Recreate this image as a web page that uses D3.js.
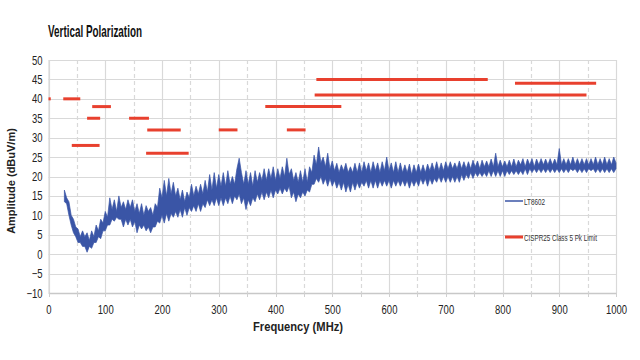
<!DOCTYPE html>
<html><head><meta charset="utf-8">
<script src="https://cdn.jsdelivr.net/npm/d3@7"></script>
<style>
body{margin:0;background:#fff;}
text{font-family:"Liberation Sans",Arial,sans-serif;}
</style></head>
<body><svg id="c" width="640" height="360"></svg>
<script>
// ---- data ----
const chartTitle = "Vertical Polarization";
const xTicks = [0,100,200,300,400,500,600,700,800,900,1000];
const yTicks = [-10,-5,0,5,10,15,20,25,30,35,40,45,50];
const seriesNames = ["LT8602","CISPR25 Class 5 Pk Limit"];
// measured spectrum envelope: sampled every 4 MHz from 28 MHz
const freqStart = 28, freqStep = 4;
const ampUpper = [
 16.5,14.5,13.5,10,9,7,6.5,4.5,6,4.5,
 5.5,3.5,6,4.5,7.5,6,9,8,11,9.5,
 14.5,11.5,14,11,15,12,13.5,11.5,14,12,
 14,11,13,10.5,13,10,12.5,11,12,10,
 13,12,17,14.5,19,15,19.5,15.5,18.5,15,
 17,14,16.5,13.5,16,14.5,18,15,17.5,15.5,
 18,15.5,19,16,20.5,16.5,21,17,20.5,17.5,
 21,17.5,21.5,18,20,18,22,24.7,21,18,
 21.5,18,21,17.5,21.5,18.5,21,19,22,19,
 22,19.5,22.5,19,22,19.5,22.5,20,24.7,20.5,
 22,19,21,18.5,21.5,18.5,22,18.5,22.5,21,
 25.5,23,27.6,23.5,25,22.5,26,22,24,21.5,
 23.4,21,23,21.5,23.4,21,22.5,21,23.4,21,
 23.5,21,23.8,21.5,23.5,21,23.8,21.5,23.5,21,
 23.8,21.5,25,21.5,23.5,21,23.8,21,23.5,21,
 23,21,23.2,20.5,23,21,23.2,21,23,21,
 23.2,21.5,23.5,21.5,23.8,21.5,23.5,21.5,23.8,22,
 23.8,22,23.5,22,24,22,23.8,22,23.8,22,
 24.2,22.5,24,22,24.2,22.5,24,22.5,24.5,22.5,
 26,22.5,24.2,22.5,24,22.5,24.2,22.5,24.5,22.5,
 24.2,23,24.6,22.5,24.5,23,24.6,22.5,24.5,23,
 24.6,23,24.5,23,24.6,23,24.5,23,27.2,23,
 24.6,23,24.6,23,25,23,24.6,23,24.6,23,
 24.6,23,24.6,23,25,23,24.6,23,25,23,
 24.6,23,25,23.5
];
const ampLower = [
 13.5,13,10,7.5,5.5,4.5,3,3,2,2,
 0.5,2,1.5,3,3,4.5,4,6,6,7.5,
 7.5,9,8.5,9.5,9,9,7,9,7.5,9,
 7,8.5,5.5,7.5,6.5,7.5,6,7,5.5,7,
 7,8.5,8,10,8,10.5,8.5,10.5,9.5,11,
 9.5,11.5,9.5,12,10,12,11,12.5,11,13,
 11,13,12,14,12.5,14,12.5,14.5,12.5,14.5,
 12.5,14.5,13,15,13,15,14,15.5,13,14.5,
 11.5,14,12.5,14.5,13.5,15.5,14,16,14,16,
 14.5,16.5,14.5,16.5,15.5,17,15.5,17,16,17.5,
 14.5,16,13.5,15.5,14.5,16,15,16.5,16,18,
 18,19.5,18.5,20,18,19.5,17.5,19.5,17.5,19,
 17,18.5,16.5,18.5,16,18,16,18.5,16.5,18.5,
 17,18.5,17.5,19,17,19,17,19,17,19,
 17.5,19,17.5,19,17,19,17.5,19,17.5,19,
 17.5,19,17,19,17.5,19,17.5,19.5,18,19.5,
 17.5,19.5,18,19.5,18.5,20,18.5,20,18.5,20,
 18.5,20,18.5,20,18.5,20.5,19,20.5,19.5,21,
 19.5,21,20,21,20,21,20,21.5,20,21.5,
 20,21.5,20,21.5,20,21.5,20.5,21.5,20.5,21.5,
 20.5,21.5,20.5,22,20.5,22,21,22,21,22,
 21,22,21,22,21,22,21,22,21,22,
 21,22,21,22,21.5,22,21,22,21,22,
 21,22,21.5,22,21,22,21,22,21,22,
 21,22,21,22
];
// limit segments
const limitStart = [0, 26, 77, 68, 142, 174, 300, 420, 41, 172, 472, 822, 469, 382];
const limitEnd   = [4, 56,110, 91, 177, 233, 333, 453, 90, 247, 774, 965, 948, 516];
const limitLevel = [40,40, 38, 35,  35,  32,  32,  32, 28,  26,  45,  44,  41,  38];

// ---- chart ----
const svg = d3.select("#c");
const x = d3.scaleLinear().domain([0,1000]).range([48.5,616]);
const y = d3.scaleLinear().domain([-10,50]).range([293,60]);
const gridCol = "#d9d9d9";
const blue = "#3a55a6", red = "#e8402e";

function condense(sel, sx){
  sel.each(function(){
    const t = d3.select(this);
    const xv = parseFloat(t.attr("x")||0);
    t.attr("x", xv/sx).attr("transform", `scale(${sx},1)`);
  });
}

// horizontal gridlines
svg.append("g").selectAll("line").data(yTicks).join("line")
  .attr("x1",x(0)).attr("x2",x(1000))
  .attr("y1",d=>Math.round(y(d))+0.5).attr("y2",d=>Math.round(y(d))+0.5)
  .attr("stroke",gridCol).attr("stroke-width",1.2);
// vertical gridlines (solid every 100, dashed at 50s)
const vGrid = d3.range(0,1001,50);
svg.append("g").selectAll("line").data(vGrid).join("line")
  .attr("x1",d=>Math.round(x(d))+0.5).attr("x2",d=>Math.round(x(d))+0.5)
  .attr("y1",y(50)).attr("y2",y(-10))
  .attr("stroke",gridCol).attr("stroke-width",1.2)
  .attr("stroke-dasharray",d=>d%100===0?null:"4,3");

// axes
const yAxis = d3.axisLeft(y).tickValues(yTicks).tickSize(0).tickPadding(6);
const gy = svg.append("g").attr("transform",`translate(${x(0)},0)`).call(yAxis);
gy.select(".domain").attr("stroke",gridCol).attr("stroke-width",1.2);
gy.selectAll("text").attr("font-size",12.5).attr("fill","#222");
condense(gy.selectAll("text"), 0.76);

const xAxis = d3.axisBottom(x).tickValues(xTicks).tickSize(0).tickPadding(12).tickFormat(d3.format("d"));
const gx = svg.append("g").attr("transform",`translate(0,${y(-10)})`).call(xAxis);
gx.select(".domain").attr("stroke","#c8c8c8").attr("stroke-width",1.5);
gx.selectAll("text").attr("font-size",12.5).attr("fill","#222");
condense(gx.selectAll("text"), 0.76);
svg.append("g").selectAll("line").data(vGrid).join("line")
  .attr("x1",d=>Math.round(x(d))+0.5).attr("x2",d=>Math.round(x(d))+0.5)
  .attr("y1",y(-10)).attr("y2",y(-10)+4).attr("stroke","#d0d0d0");

// spectrum band
const spec = ampUpper.map((v,i)=>({f:freqStart+i*freqStep, hi:v, lo:ampLower[i]}));
svg.append("path").datum(spec)
  .attr("fill",blue).attr("stroke",blue).attr("stroke-width",0.7)
  .attr("stroke-linejoin","miter")
  .attr("d",d3.area().x(d=>x(d.f)).y0(d=>y(d.lo)).y1(d=>y(d.hi)));

// limit lines
svg.append("g").selectAll("line").data(limitLevel).join("line")
  .attr("x1",(d,i)=>x(limitStart[i])).attr("x2",(d,i)=>x(limitEnd[i]))
  .attr("y1",d=>y(d)).attr("y2",d=>y(d))
  .attr("stroke",red).attr("stroke-width",3);

// legend
const lg = svg.append("g");
const legY = [201, 237];
const legCol = [blue, red];
const legW = [1.5,3];
const legLen = [21,73];
seriesNames.forEach((n,i)=>{
  lg.append("line").attr("x1",505).attr("x2",523).attr("y1",legY[i]).attr("y2",legY[i])
    .attr("stroke",legCol[i]).attr("stroke-width",legW[i]);
  lg.append("text").attr("x",524).attr("y",legY[i]+3.5).attr("font-size",9).attr("fill","#333")
    .attr("textLength",legLen[i]).attr("lengthAdjust","spacingAndGlyphs").text(n);
});

// titles
svg.append("text").attr("x",48).attr("y",37).attr("font-size",16.5).attr("font-weight","bold")
  .attr("fill","#111").attr("textLength",94).attr("lengthAdjust","spacingAndGlyphs").text(chartTitle);
svg.append("text").attr("transform","translate(15,181) rotate(-90)").attr("text-anchor","middle")
  .attr("font-size",11).attr("font-weight","bold").attr("fill","#222").text("Amplitude (dBuV/m)");
svg.append("text").attr("x",298).attr("y",331).attr("text-anchor","middle")
  .attr("font-size",12.5).attr("font-weight","bold").attr("fill","#222")
  .attr("textLength",90).attr("lengthAdjust","spacingAndGlyphs").text("Frequency (MHz)");
</script></body></html>
